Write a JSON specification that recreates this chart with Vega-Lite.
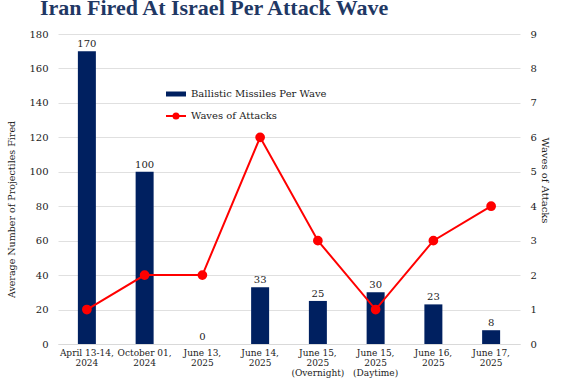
{
  "$schema": "https://vega.github.io/schema/vega-lite/v6.json",
  "width": 462,
  "height": 310,
  "autosize": "none",
  "padding": {"left": 58, "top": 34, "right": 42, "bottom": 36},
  "background": "white",
  "config": {
    "font": "DejaVu Serif",
    "view": {"stroke": null}
  },
  "title": {
    "text": "Iran Fired At Israel Per Attack Wave",
    "font": "Liberation Serif",
    "fontSize": 22,
    "fontWeight": "bold",
    "color": "#1f3864",
    "anchor": "start",
    "frame": "group",
    "dx": -18,
    "dy": 12,
    "baseline": "alphabetic",
    "offset": 4
  },
  "data": {
    "values": [
      {"date": "April 13-14,|2024", "missiles": 170, "waves": 1},
      {"date": "October 01,|2024", "missiles": 100, "waves": 2},
      {"date": "June 13,|2025", "missiles": 0, "waves": 2},
      {"date": "June 14,|2025", "missiles": 33, "waves": 6},
      {"date": "June 15,|2025|(Overnight)", "missiles": 25, "waves": 3},
      {"date": "June 15,|2025|(Daytime)", "missiles": 30, "waves": 1},
      {"date": "June 16,|2025", "missiles": 23, "waves": 3},
      {"date": "June 17,|2025", "missiles": 8, "waves": 4}
    ]
  },
  "encoding": {
    "x": {
      "field": "date",
      "type": "nominal",
      "sort": null,
      "title": null,
      "axis": {
        "labelExpr": "split(datum.value, '|')",
        "labelAngle": 0,
        "labelFontSize": 9,
        "labelColor": "#222",
        "labelLineHeight": 10,
        "labelPadding": 4,
        "labelOverlap": false,
        "domainColor": "#d9d9d9",
        "ticks": false,
        "labelFont": "DejaVu Serif"
      }
    }
  },
  "layer": [
    {
      "encoding": {
        "y": {
          "field": "missiles",
          "type": "quantitative",
          "scale": {"domain": [0, 180]},
          "title": "Average Number of Projectiles Fired",
          "axis": {
            "values": [0, 20, 40, 60, 80, 100, 120, 140, 160, 180],
            "tickCount": 20,
            "format": "d",
            "labelOverlap": false,
            "grid": true,
            "gridColor": "#e0e0e0",
            "domain": false,
            "ticks": false,
            "labelFontSize": 10,
            "labelColor": "#222",
            "labelPadding": 10,
            "titleFontSize": 9.5,
            "titleFontWeight": "normal",
            "titleColor": "#222",
            "titlePadding": 12,
            "titleY": 175
          }
        }
      },
      "layer": [
        {
          "mark": {"type": "bar", "size": 18},
          "encoding": {
            "color": {
              "datum": "Ballistic Missiles Per Wave",
              "scale": {"range": ["#002060"]},
              "legend": {
                "orient": "none",
                "legendX": 107,
                "legendY": 49,
                "title": null,
                "symbolType": "M-1,-0.25L1,-0.25L1,0.25L-1,0.25Z",
                "symbolSize": 400,
                "labelFontSize": 10,
                "labelColor": "#222",
                "labelFont": "DejaVu Serif"
              }
            }
          }
        },
        {
          "mark": {"type": "text", "dy": -7, "fontSize": 10, "color": "#222"},
          "encoding": {
            "text": {"field": "missiles", "type": "quantitative"}
          }
        }
      ]
    },
    {
      "mark": {"type": "line", "color": "#ff0000", "strokeWidth": 2, "point": {"filled": true, "size": 60, "color": "#ff0000"}},
      "encoding": {
        "y": {
          "field": "waves",
          "type": "quantitative",
          "scale": {"domain": [0, 9]},
          "title": "Waves of Attacks",
          "axis": {
            "orient": "right",
            "values": [0, 1, 2, 3, 4, 5, 6, 7, 8, 9],
            "tickCount": 20,
            "format": "d",
            "labelOverlap": false,
            "grid": false,
            "domain": false,
            "ticks": false,
            "labelFontSize": 10,
            "labelColor": "#222",
            "labelPadding": 10,
            "titleFontSize": 10,
            "titleFontWeight": "normal",
            "titleColor": "#222",
            "titlePadding": 3,
            "titleY": 146
          }
        },
        "stroke": {
          "datum": "Waves of Attacks",
          "scale": {"range": ["#ff0000"]},
          "legend": {
            "orient": "none",
            "legendX": 107,
            "legendY": 71,
            "title": null,
            "symbolType": "M-1,0L1,0M-0.25,0a0.25,0.25 0 1,0 0.5,0a0.25,0.25 0 1,0 -0.5,0",
            "symbolSize": 400,
            "symbolFillColor": "#ff0000",
            "symbolStrokeColor": "#ff0000",
            "symbolStrokeWidth": 2,
            "labelFontSize": 10,
            "labelColor": "#222",
            "labelFont": "DejaVu Serif"
          }
        }
      }
    }
  ],
  "resolve": {"scale": {"y": "independent", "color": "independent"}}
}
